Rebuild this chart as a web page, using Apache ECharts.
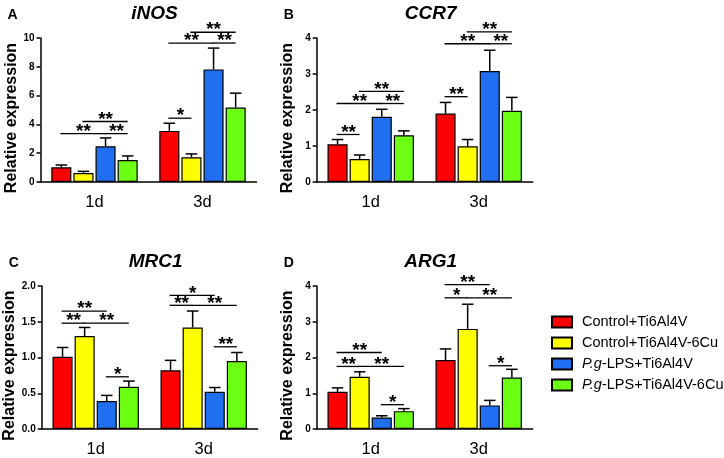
<!DOCTYPE html>
<html>
<head>
<meta charset="utf-8">
<title>Relative expression</title>
<script src="https://cdn.jsdelivr.net/npm/echarts@6/dist/echarts.min.js"></script>
<style>
  html, body { margin: 0; padding: 0; background: #fff; }
  #chart { width: 724px; height: 458px; }
</style>
</head>
<body>
<div id="chart"></div>
<script>
// categories (x) and treatment groups (series)
const categories = ['1d', '3d'];
const groups = ['Control+Ti6Al4V', 'Control+Ti6Al4V-6Cu', 'P.g-LPS+Ti6Al4V', 'P.g-LPS+Ti6Al4V-6Cu'];
const groupColors = ['#ff0000', '#ffff00', '#1f6ff0', '#6cff14'];

// rows: 1d, 3d / columns: groups
const iNOSMean = [[1.02, 0.63, 2.48, 1.53], [3.55, 1.72, 7.82, 5.17]];
const iNOSErr = [[0.16, 0.11, 0.58, 0.28], [0.53, 0.23, 1.48, 1.0]];
const CCR7Mean = [[1.05, 0.64, 1.81, 1.30], [1.90, 0.99, 3.08, 1.98]];
const CCR7Err = [[0.13, 0.11, 0.21, 0.12], [0.31, 0.19, 0.58, 0.37]];
const MRC1Mean = [[1.01, 1.30, 0.39, 0.59], [0.82, 1.42, 0.52, 0.95]];
const MRC1Err = [[0.13, 0.12, 0.08, 0.08], [0.14, 0.23, 0.06, 0.12]];
const ARG1Mean = [[1.04, 1.46, 0.32, 0.50], [1.93, 2.80, 0.66, 1.44]];
const ARG1Err = [[0.11, 0.14, 0.05, 0.07], [0.31, 0.69, 0.14, 0.23]];

// significance: [category, group from, group to, height, label]
const iNOSSig = [
  [0, 0, 2, 3.36, '**'], [0, 1, 3, 4.2, '**'], [0, 2, 3, 3.36, '**'],
  [1, 0, 1, 4.43, '*'], [1, 0, 2, 9.65, '**'], [1, 1, 3, 10.4, '**'], [1, 2, 3, 9.65, '**']
];
const CCR7Sig = [
  [0, 0, 1, 1.32, '**'], [0, 0, 2, 2.18, '**'], [0, 1, 3, 2.52, '**'], [0, 2, 3, 2.18, '**'],
  [1, 0, 1, 2.37, '**'], [1, 0, 2, 3.84, '**'], [1, 1, 3, 4.17, '**'], [1, 2, 3, 3.84, '**']
];
const MRC1Sig = [
  [0, 0, 2, 1.65, '**'], [0, 0, 1, 1.48, '**'], [0, 1, 3, 1.48, '**'], [0, 2, 3, 0.73, '*'],
  [1, 0, 2, 1.87, '*'], [1, 0, 1, 1.73, '**'], [1, 1, 3, 1.73, '**'], [1, 2, 3, 1.15, '**']
];
const ARG1Sig = [
  [0, 0, 2, 2.14, '**'], [0, 0, 1, 1.75, '**'], [0, 1, 3, 1.75, '**'], [0, 2, 3, 0.68, '*'],
  [1, 0, 2, 4.04, '**'], [1, 0, 1, 3.67, '*'], [1, 1, 3, 3.67, '**'], [1, 2, 3, 1.77, '*']
];

const FONT = '"Liberation Sans", Arial, sans-serif';
const BAR_GAP = 0.1;
const CAT_GAP = 0.2;

const panels = [
  { letter: 'A', gene: 'iNOS', mean: iNOSMean, err: iNOSErr, sig: iNOSSig, max: 10, step: 2, left: 40.5, top: 38 },
  { letter: 'B', gene: 'CCR7', mean: CCR7Mean, err: CCR7Err, sig: CCR7Sig, max: 4, step: 1, left: 316.7, top: 38 },
  { letter: 'C', gene: 'MRC1', mean: MRC1Mean, err: MRC1Err, sig: MRC1Sig, max: 2, step: 0.5, left: 41.7, top: 286 },
  { letter: 'D', gene: 'ARG1', mean: ARG1Mean, err: ARG1Err, sig: ARG1Sig, max: 4, step: 1, left: 316.7, top: 286 }
];

// x position of a bar inside its category, same rule ECharts uses for bar layout
function barX(api, cat, g, y) {
  const p = api.coord([cat, y]);
  const band = api.size([1, 0])[0];
  const w = band * (1 - CAT_GAP) / (groups.length + (groups.length - 1) * BAR_GAP);
  const pitch = w * (1 + BAR_GAP);
  return [p[0] + (g - (groups.length - 1) / 2) * pitch, p[1], pitch];
}

function renderError(params, api) {
  const cat = api.value(0), g = api.value(1), m = api.value(2), e = api.value(3);
  const base = barX(api, cat, g, m);
  const top = api.coord([cat, m + e])[1];
  const half = base[2] * 0.26;
  const st = { stroke: '#000', lineWidth: 1.5 };
  return {
    type: 'group',
    children: [
      { type: 'line', shape: { x1: base[0], y1: base[1], x2: base[0], y2: top }, style: st },
      { type: 'line', shape: { x1: base[0] - half, y1: top, x2: base[0] + half, y2: top }, style: st }
    ]
  };
}

function makeBracket(sig) {
  return function (params, api) {
    const cat = api.value(0), a = api.value(1), b = api.value(2), h = api.value(3);
    const p1 = barX(api, cat, a, h);
    const p2 = barX(api, cat, b, h);
    const label = sig[params.dataIndex][4];
    return {
      type: 'group',
      children: [
        { type: 'line', shape: { x1: p1[0] - 1, y1: p1[1], x2: p2[0], y2: p1[1] }, style: { stroke: '#000', lineWidth: 1.3 } },
        {
          type: 'text',
          x: (p1[0] + p2[0]) / 2,
          y: p1[1] - 2,
          style: { text: label, fill: '#000', font: 'bold 19px ' + FONT, align: 'center', verticalAlign: 'middle' }
        }
      ]
    };
  };
}

const chart = echarts.init(document.getElementById('chart'));

const grid = [], xAxis = [], yAxis = [], series = [], title = [];
panels.forEach((p, k) => {
  grid.push({ left: p.left, top: p.top, width: 216, height: 144 });
  xAxis.push({
    type: 'category',
    gridIndex: k,
    data: categories,
    axisLine: { lineStyle: { color: '#000', width: 1.5 } },
    axisTick: { alignWithLabel: true, length: 5, lineStyle: { color: '#000', width: 1.5 } },
    axisLabel: { color: '#000', fontSize: 16.5, fontFamily: FONT, margin: 12 }
  });
  yAxis.push({
    type: 'value',
    gridIndex: k,
    min: 0,
    max: p.max,
    interval: p.step,
    name: 'Relative expression',
    nameLocation: 'middle',
    nameGap: 21,
    nameTextStyle: { color: '#000', fontSize: 16, fontWeight: 'bold', fontFamily: FONT, padding: [0, 16, 0, 0] },
    splitLine: { show: false },
    axisLine: { show: true, lineStyle: { color: '#000', width: 1.5 } },
    axisTick: { show: true, length: 4, lineStyle: { color: '#000', width: 1.5 } },
    axisLabel: {
      color: '#000', fontSize: 10, fontWeight: 'bold', fontFamily: FONT, margin: 6,
      formatter: v => (p.step < 1 ? v.toFixed(1) : String(v))
    }
  });
  title.push({
    text: p.gene,
    left: p.left + 109,
    top: p.top - 39,
    textAlign: 'center',
    textStyle: { color: '#000', fontSize: 19, fontWeight: 'bold', fontStyle: 'italic', fontFamily: FONT }
  });
  title.push({
    text: p.letter,
    left: p.left - 38,
    top: p.top - 35,
    textStyle: { color: '#000', fontSize: 14, fontWeight: 'bold', fontFamily: FONT }
  });

  groups.forEach((name, g) => {
    series.push({
      type: 'bar',
      name: name,
      xAxisIndex: k,
      yAxisIndex: k,
      barGap: BAR_GAP * 100 + '%',
      barCategoryGap: CAT_GAP * 100 + '%',
      data: p.mean.map(row => row[g]),
      itemStyle: { color: groupColors[g], borderColor: '#000', borderWidth: 1.2 }
    });
  });

  const errData = [];
  p.mean.forEach((row, c) => row.forEach((m, g) => errData.push([c, g, m, p.err[c][g]])));
  series.push({
    type: 'custom',
    xAxisIndex: k,
    yAxisIndex: k,
    z: 3,
    encode: { x: 0, y: 2 },
    data: errData,
    renderItem: renderError,
    silent: true
  });
  series.push({
    type: 'custom',
    xAxisIndex: k,
    yAxisIndex: k,
    z: 4,
    encode: { x: 0, y: 3 },
    data: p.sig.map(s => [s[0], s[1], s[2], s[3]]),
    renderItem: makeBracket(p.sig),
    silent: true
  });
});

chart.setOption({
  animation: false,
  backgroundColor: '#fff',
  textStyle: { fontFamily: FONT },
  title: title,
  grid: grid,
  xAxis: xAxis,
  yAxis: yAxis,
  legend: {
    data: groups,
    orient: 'vertical',
    left: 546,
    top: 309,
    icon: 'rect',
    itemWidth: 20,
    itemHeight: 11,
    itemGap: 5,
    formatter: name => name.replace('P.g', '{i|P.g}'),
    textStyle: {
      color: '#000', fontSize: 14.5, lineHeight: 16, fontFamily: FONT, padding: [0, 0, 0, 5],
      rich: { i: { fontStyle: 'italic', fontSize: 14.5, fontFamily: FONT, color: '#000' } }
    }
  },
  series: series
});
</script>
</body>
</html>
